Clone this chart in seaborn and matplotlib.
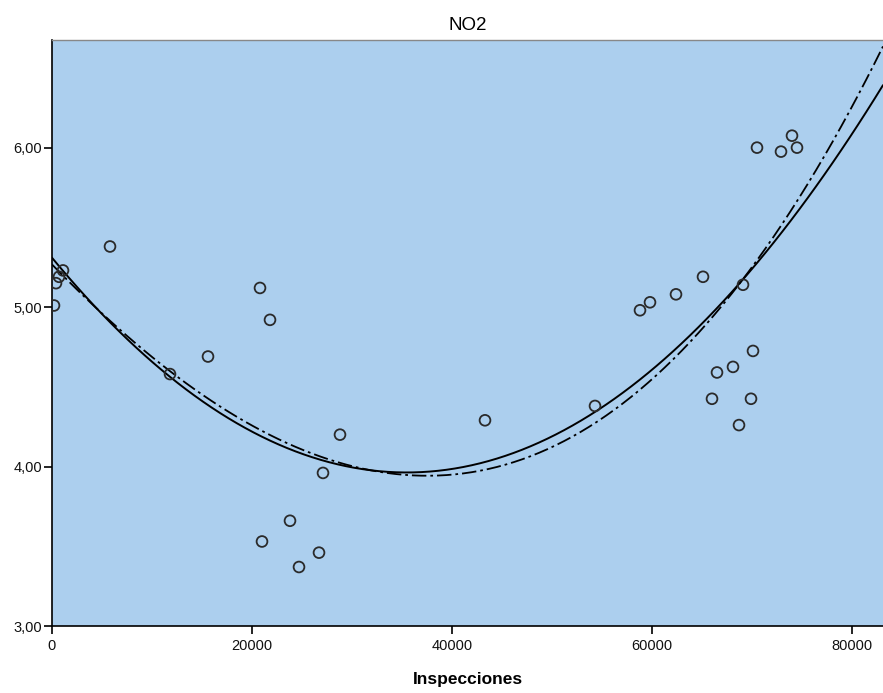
import matplotlib
matplotlib.use("Agg")
import matplotlib.pyplot as plt
import seaborn as sns
import numpy as np
import pandas as pd
from matplotlib.ticker import FuncFormatter, FixedLocator

inspecciones = [200, 400, 700, 1100, 5800, 11800, 15600, 20800, 21800, 21000,
                23800, 24700, 26700, 27100, 28800, 43300, 54300, 58800, 59800,
                62400, 65100, 66000, 66500, 68100, 68700, 69100, 69900, 70100,
                70500, 72900, 74000, 74500]
no2 = [5.01, 5.15, 5.19, 5.23, 5.38, 4.58, 4.69, 5.12, 4.92, 3.53,
       3.66, 3.37, 3.46, 3.96, 4.20, 4.29, 4.38, 4.98, 5.03,
       5.08, 5.19, 4.425, 4.59, 4.625, 4.26, 5.14, 4.425, 4.725,
       6.00, 5.975, 6.075, 6.00]

df = pd.DataFrame({"Inspecciones": inspecciones, "NO2": no2})

sns.set_style("white")
plt.rcParams["font.family"] = ["Liberation Sans", "DejaVu Sans"]

fig = plt.figure(figsize=(8.83, 6.93), dpi=100)
ax = fig.add_axes([52/883, 67/693, 1 - 52/883, (626 - 40)/693])
ax.set_facecolor("#accfee")

ax.set_xlim(0, 83100)
ax.set_ylim(3.0, 6.675)

sns.regplot(data=df, x="Inspecciones", y="NO2", order=2, ci=None, scatter=False,
            truncate=False, ax=ax, line_kws=dict(color="black", lw=1.4))
sns.regplot(data=df, x="Inspecciones", y="NO2", order=3, ci=None, scatter=False,
            truncate=False, ax=ax,
            line_kws=dict(color="black", lw=1.3, linestyle=(0, (8, 2.2, 1.5, 2.2))))
sns.scatterplot(data=df, x="Inspecciones", y="NO2", ax=ax, marker="o",
                facecolor="none", edgecolor="#2a2a2a", linewidth=1.3, s=60, zorder=3)

ax.set_xlim(0, 83100)
ax.set_ylim(3.0, 6.675)

ax.xaxis.set_major_locator(FixedLocator([0, 20000, 40000, 60000, 80000]))
ax.yaxis.set_major_locator(FixedLocator([3, 4, 5, 6]))
ax.yaxis.set_major_formatter(FuncFormatter(lambda v, p: f"{v:.2f}".replace(".", ",")))
ax.xaxis.set_major_formatter(FuncFormatter(lambda v, p: f"{int(v)}"))
ax.tick_params(axis="both", which="major", direction="out", length=6, width=1.2,
               color="black", labelsize=10.5, labelcolor="#111111",
               bottom=True, left=True, top=False, right=False)
ax.tick_params(axis="y", pad=1)
ax.tick_params(axis="x", pad=3)

for side in ["left", "bottom"]:
    ax.spines[side].set_color("black")
    ax.spines[side].set_linewidth(1.2)
ax.spines["top"].set_color("#888888")
ax.spines["top"].set_linewidth(1.0)
ax.spines["right"].set_visible(False)

ax.set_ylabel("")
ax.set_xlabel("Inspecciones", fontsize=12.5, fontweight="bold", color="black", labelpad=14)
ax.set_title("NO2", fontsize=13.5, color="black", pad=7)

fig.savefig("out.png", dpi=100)
